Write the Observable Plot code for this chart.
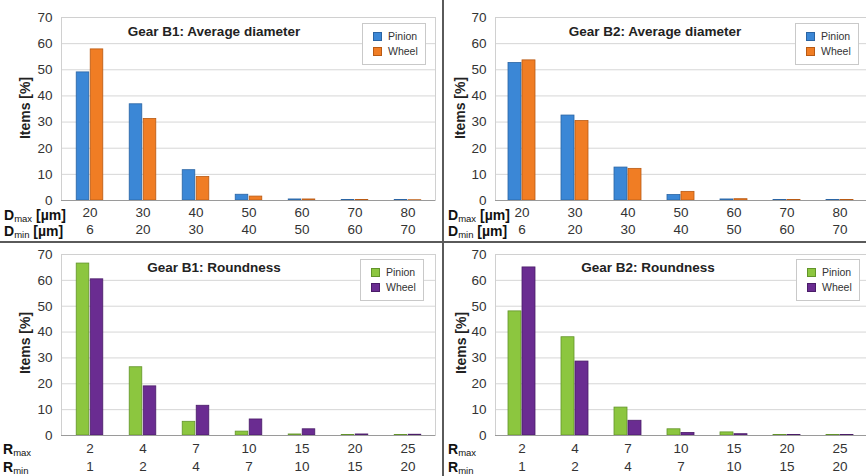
<!DOCTYPE html>
<html>
<head>
<meta charset="utf-8">
<script src="https://cdn.jsdelivr.net/npm/d3@7"></script>
<script src="https://cdn.jsdelivr.net/npm/@observablehq/plot@0.6"></script>
<style>
  html, body { margin: 0; padding: 0; background: #fff; }
  #root { position: relative; width: 866px; height: 476px; background: #fff; overflow: hidden;
          font-family: Arial, "Liberation Sans", Helvetica, sans-serif; color: #222; }
  .panel { position: absolute; }
  .panel svg { position: absolute; left: 0; top: 0; }
  .title { position: absolute; transform: translate(-50%, -50%); font-weight: bold; font-size: 13.5px; line-height: 1; white-space: nowrap; color: #222; }
  .ylab { position: absolute; transform: translate(-50%, -50%) rotate(-90deg); font-weight: bold; font-size: 14px; line-height: 1; white-space: nowrap; color: #222; }
  .rowlab { position: absolute; font-weight: bold; font-size: 14px; line-height: 11px; white-space: nowrap; color: #111; transform: translateY(-50%); }
  .rowlab sub { font-size: 9.5px; line-height: 0; vertical-align: -2px; font-weight: normal; }
  .legend { position: absolute; width: 62px; height: 40px; border: 1px solid #c9c9c9; background: #fff; font-size: 10.5px; color: #333; }
  .legend .item { position: absolute; left: 10px; display: flex; align-items: center; line-height: 1; }
  .legend .sw { width: 9px; height: 9px; margin-right: 6px; box-sizing: border-box; }
  .vdiv { position: absolute; left: 442px; top: 0; width: 2px; height: 476px; background: #5a5a5a; }
  .hdiv { position: absolute; left: 0; top: 241px; width: 866px; height: 2px; background: #5a5a5a; }
</style>
</head>
<body>
<div id="root"></div>
<script>
// ---- data ----
const dMax = ["20", "30", "40", "50", "60", "70", "80"];
const dMin = ["6", "20", "30", "40", "50", "60", "70"];
const rMax = ["2", "4", "7", "10", "15", "20", "25"];
const rMin = ["1", "2", "4", "7", "10", "15", "20"];
const yTicks = [0, 10, 20, 30, 40, 50, 60, 70];
const seriesNames = ["Pinion", "Wheel"];

const b1DiamPinion = [49.0, 36.8, 11.6, 2.2, 0.4, 0.2, 0.2];
const b1DiamWheel  = [57.8, 31.2, 9.0, 1.5, 0.4, 0.2, 0.1];
const b2DiamPinion = [52.6, 32.5, 12.6, 2.1, 0.4, 0.2, 0.2];
const b2DiamWheel  = [53.6, 30.4, 12.1, 3.3, 0.5, 0.2, 0.2];
const b1RoundPinion = [66.5, 26.4, 5.3, 1.5, 0.4, 0.2, 0.2];
const b1RoundWheel  = [60.4, 19.0, 11.5, 6.2, 2.4, 0.4, 0.3];
const b2RoundPinion = [48.0, 38.0, 10.8, 2.4, 1.2, 0.2, 0.2];
const b2RoundWheel  = [65.0, 28.6, 5.7, 1.0, 0.5, 0.2, 0.2];

const diamColors = { fill: ["#3b87d6", "#f07d24"], stroke: ["#2a64a3", "#b85a14"] };
const roundColors = { fill: ["#8cc63f", "#6a2c91"], stroke: ["#62942a", "#4a1c68"] };

const root = document.getElementById("root");

function makePanel(cfg) {
  const panel = document.createElement("div");
  panel.className = "panel";
  Object.assign(panel.style, { left: cfg.left + "px", top: cfg.top + "px", width: cfg.width + "px", height: cfg.height + "px" });

  const rows = cfg.cats.map((c, i) => ({ cat: c, sub: cfg.sub[i], pinion: cfg.pinion[i], wheel: cfg.wheel[i] }));
  const subMap = new Map(rows.map(d => [d.cat, d.sub]));
  const bw = (cfg.width - cfg.marginLeft - cfg.marginRight) / cfg.cats.length;
  const barW = 13, gap = 1;
  const inner = bw / 2 - barW - gap / 2;
  const outer = bw / 2 + gap / 2;

  const chart = Plot.plot({
    width: cfg.width,
    height: cfg.height,
    marginLeft: cfg.marginLeft,
    marginRight: cfg.marginRight,
    marginTop: cfg.marginTop,
    marginBottom: cfg.marginBottom,
    style: { fontFamily: "Arial, 'Liberation Sans', sans-serif", fontSize: "13.5px", background: "transparent", color: "#333" },
    x: { domain: cfg.cats, padding: 0, axis: null },
    y: { domain: [0, 70], axis: null },
    marks: [
      Plot.gridY(yTicks, { stroke: "#d6d6d6", strokeOpacity: 1 }),
      Plot.frame({ stroke: "#d0d0d0" }),
      Plot.barY(rows, { x: "cat", y: "pinion", fill: cfg.colors.fill[0], stroke: cfg.colors.stroke[0], strokeWidth: 0.8, insetLeft: inner, insetRight: outer }),
      Plot.barY(rows, { x: "cat", y: "wheel", fill: cfg.colors.fill[1], stroke: cfg.colors.stroke[1], strokeWidth: 0.8, insetLeft: outer, insetRight: inner }),
      Plot.ruleY([0], { stroke: "#9a9a9a" }),
      Plot.axisY(yTicks, { tickSize: 0, tickPadding: 9, label: null, fontSize: 13.5, fill: "#333" }),
      Plot.axisX({ tickSize: 0, tickPadding: cfg.pad1, label: null, fontSize: 13.5, fill: "#333" }),
      Plot.axisX({ tickSize: 0, tickPadding: cfg.pad2, label: null, fontSize: 13.5, fill: "#333", tickFormat: d => subMap.get(d) })
    ]
  });
  panel.appendChild(chart);

  const title = document.createElement("div");
  title.className = "title";
  title.textContent = cfg.title;
  Object.assign(title.style, { left: cfg.titleX + "px", top: cfg.titleY + "px" });
  panel.appendChild(title);

  const ylab = document.createElement("div");
  ylab.className = "ylab";
  ylab.textContent = "Items [%]";
  Object.assign(ylab.style, { left: cfg.ylabX + "px", top: cfg.ylabY + "px" });
  panel.appendChild(ylab);

  cfg.rowLabels.forEach((html, i) => {
    const r = document.createElement("div");
    r.className = "rowlab";
    r.innerHTML = html;
    Object.assign(r.style, { left: cfg.rowX + "px", top: cfg.rowY[i] + "px" });
    panel.appendChild(r);
  });

  const lg = document.createElement("div");
  lg.className = "legend";
  Object.assign(lg.style, { left: cfg.legendX + "px", top: cfg.legendY + "px" });
  seriesNames.forEach((name, i) => {
    const it = document.createElement("div");
    it.className = "item";
    it.style.top = (7 + i * 15) + "px";
    const sw = document.createElement("span");
    sw.className = "sw";
    sw.style.background = cfg.colors.fill[i];
    sw.style.border = "1px solid " + cfg.colors.stroke[i];
    const tx = document.createElement("span");
    tx.textContent = name;
    it.appendChild(sw);
    it.appendChild(tx);
    lg.appendChild(it);
  });
  panel.appendChild(lg);

  root.appendChild(panel);
}

const dRows = ["D<sub>max</sub> [µm]", "D<sub>min</sub> [µm]"];
const rRows = ["R<sub>max</sub>", "R<sub>min</sub>"];

makePanel({ left: 0, top: 0, width: 443, height: 242, marginLeft: 61, marginRight: 8, marginTop: 17, marginBottom: 42,
  cats: dMax, sub: dMin, pinion: b1DiamPinion, wheel: b1DiamWheel, colors: diamColors,
  title: "Gear B1: Average diameter", titleX: 214, titleY: 32, ylabX: 25, ylabY: 108,
  rowLabels: dRows, rowX: 4, rowY: [215, 231], legendX: 362, legendY: 23, pad1: 7, pad2: 24 });

makePanel({ left: 443, top: 0, width: 423, height: 242, marginLeft: 52, marginRight: 0, marginTop: 17, marginBottom: 42,
  cats: dMax, sub: dMin, pinion: b2DiamPinion, wheel: b2DiamWheel, colors: diamColors,
  title: "Gear B2: Average diameter", titleX: 212, titleY: 32, ylabX: 17, ylabY: 108,
  rowLabels: dRows, rowX: 5, rowY: [215, 231], legendX: 352, legendY: 23, pad1: 7, pad2: 24 });

makePanel({ left: 0, top: 242, width: 443, height: 234, marginLeft: 61, marginRight: 8, marginTop: 12, marginBottom: 41,
  cats: rMax, sub: rMin, pinion: b1RoundPinion, wheel: b1RoundWheel, colors: roundColors,
  title: "Gear B1: Roundness", titleX: 214, titleY: 26, ylabX: 25, ylabY: 101,
  rowLabels: rRows, rowX: 3, rowY: [207, 225], legendX: 360, legendY: 17, pad1: 8, pad2: 26 });

makePanel({ left: 443, top: 242, width: 423, height: 234, marginLeft: 52, marginRight: 0, marginTop: 12, marginBottom: 41,
  cats: rMax, sub: rMin, pinion: b2RoundPinion, wheel: b2RoundWheel, colors: roundColors,
  title: "Gear B2: Roundness", titleX: 205, titleY: 26, ylabX: 18, ylabY: 101,
  rowLabels: rRows, rowX: 5, rowY: [207, 225], legendX: 353, legendY: 17, pad1: 8, pad2: 26 });

const v = document.createElement("div"); v.className = "vdiv"; root.appendChild(v);
const h = document.createElement("div"); h.className = "hdiv"; root.appendChild(h);
</script>
</body>
</html>
